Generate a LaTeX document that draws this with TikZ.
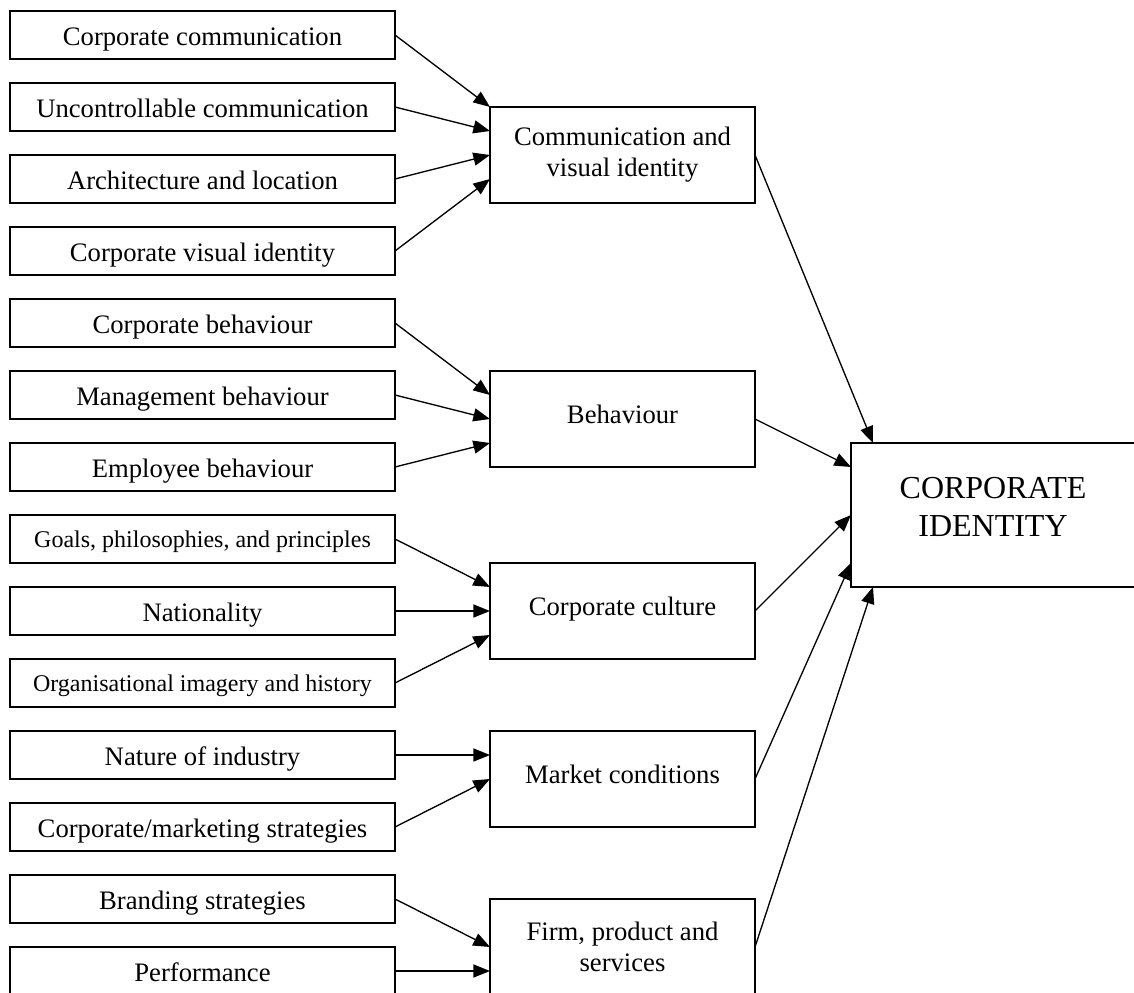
\documentclass[tikz,border=0pt]{standalone}
\usepackage{fontspec}
\setmainfont{Liberation Serif}
\usetikzlibrary{arrows.meta,calc}
\begin{document}
\begin{tikzpicture}[x=0.75pt,y=-0.75pt,
  lbox/.style={draw, line width=1.3pt, minimum width=288.75pt, minimum height=36pt,
    inner sep=0pt, outer sep=0pt, font=\fontsize{20}{24}\selectfont,
    text height=15pt, text depth=0pt},
  sbox/.style={lbox, font=\fontsize{18}{22}\selectfont, text height=12.75pt},
  mbox/.style={draw, line width=1.3pt, minimum width=198.75pt, minimum height=72pt,
    inner sep=0pt, outer sep=0pt, align=center, font=\fontsize{20}{23.25}\selectfont},
  mone/.style={mbox, text height=6.5pt, text depth=0pt},
  cibox/.style={draw, line width=1.3pt, minimum width=213pt, minimum height=108pt,
    inner sep=0pt, outer sep=0pt},
  citext/.style={align=center, inner sep=0pt, font=\fontsize{24}{28.5}\selectfont},
  conn/.style={line width=1pt, -{Triangle[length=12.5pt,width=9.8pt]}}]
\useasboundingbox (0,0) rectangle (1134,992);

% left boxes
\node[lbox] (l1)  at (202.5,35)  {Corporate communication};
\node[lbox] (l2)  at (202.5,107) {Uncontrollable communication};
\node[lbox] (l3)  at (202.5,179) {Architecture and location};
\node[lbox] (l4)  at (202.5,251) {Corporate visual identity};
\node[lbox] (l5)  at (202.5,323) {Corporate behaviour};
\node[lbox] (l6)  at (202.5,395) {Management behaviour};
\node[lbox] (l7)  at (202.5,467) {Employee behaviour};
\node[sbox] (l8)  at (202.5,539) {Goals, philosophies, and principles};
\node[lbox] (l9)  at (202.5,611) {Nationality};
\node[sbox] (l10) at (202.5,683) {Organisational imagery and history};
\node[lbox] (l11) at (202.5,755) {Nature of industry};
\node[lbox] (l12) at (202.5,827) {Corporate/marketing strategies};
\node[lbox] (l13) at (202.5,899) {Branding strategies};
\node[lbox] (l14) at (202.5,971) {Performance};

% middle boxes
\node[mbox] (m1) at (622.5,155) {Communication and\\visual identity};
\node[mone] (m2) at (622.5,419) {Behaviour};
\node[mone] (m3) at (622.5,611) {Corporate culture};
\node[mone] (m4) at (622.5,779) {Market conditions};
\node[mbox] (m5) at (622.5,947) {Firm, product and\\services};

% corporate identity
\node[cibox] (ci) at (993,515) {};
\node[citext] (citxt) at (993,506.5) {CORPORATE\\IDENTITY};

% left to middle
\draw[conn] (l1.east) -- (m1.north west);
\draw[conn] (l2.east) -- ($(m1.north west)!.25!(m1.south west)$);
\draw[conn] (l3.east) -- (m1.west);
\draw[conn] (l4.east) -- ($(m1.north west)!.75!(m1.south west)$);

\draw[conn] (l5.east) -- ($(m2.north west)!.25!(m2.south west)$);
\draw[conn] (l6.east) -- (m2.west);
\draw[conn] (l7.east) -- ($(m2.north west)!.75!(m2.south west)$);

\draw[conn] (l8.east) -- ($(m3.north west)!.25!(m3.south west)$);
\draw[conn] (l9.east) -- (m3.west);
\draw[conn] (l10.east) -- ($(m3.north west)!.75!(m3.south west)$);

\draw[conn] (l11.east) -- ($(m4.north west)!.25!(m4.south west)$);
\draw[conn] (l12.east) -- (m4.west);

\draw[conn] (l13.east) -- (m5.west);
\draw[conn] (l14.east) -- ($(m5.north west)!.75!(m5.south west)$);

% middle to corporate identity
\draw[conn] (m1.east) -- ($(ci.north west)+(22,0)$);
\draw[conn] (m2.east) -- ($(ci.north west)!{1/6}!(ci.south west)$);
\draw[conn] (m3.east) -- (ci.west);
\draw[conn] (m4.east) -- ($(ci.north west)!{5/6}!(ci.south west)$);
\draw[conn] (m5.east) -- ($(ci.south west)+(22,0)$);
\end{tikzpicture}
\end{document}
